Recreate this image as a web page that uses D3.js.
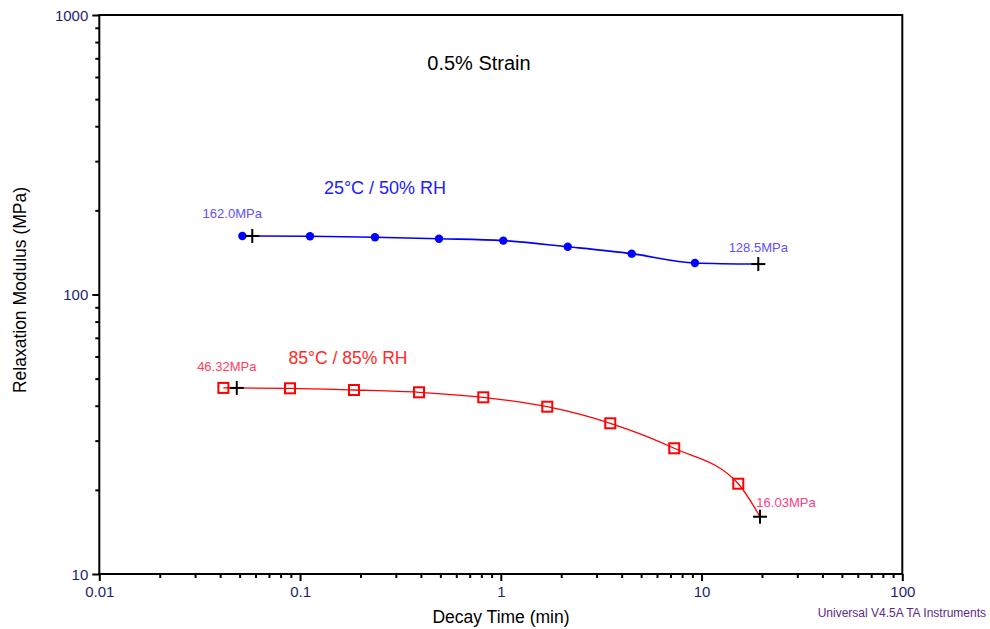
<!DOCTYPE html>
<html><head><meta charset="utf-8">
<script src="https://cdn.jsdelivr.net/npm/d3@7"></script>
<style>body{margin:0;background:#fff;}svg{display:block;font-family:"Liberation Sans",Arial,sans-serif;}</style>
</head><body>
<svg id="c" width="990" height="629"></svg>
<script>
// Data
const blueTime = [0.0516, 0.1121, 0.2362, 0.4922, 1.029, 2.154, 4.487, 9.27];
const blueMod  = [162.0, 161.5, 160.2, 158.3, 155.9, 148.2, 140.0, 129.7];
const blueEnds = [[0.0578, 162.0], [19.17, 128.5]];
const redTime  = [0.0415, 0.0891, 0.1856, 0.3914, 0.818, 1.704, 3.51, 7.31, 15.24];
const redMod   = [46.32, 46.17, 45.53, 44.68, 42.87, 39.68, 34.61, 28.17, 21.04];
const redEnds  = [[0.0484, 46.32], [19.55, 16.03]];
const xTickLabels = ["0.01", "0.1", "1", "10", "100"];
const yTickLabels = ["10", "100", "1000"];

const svg = d3.select("#c");
const x = d3.scaleLog().domain([0.01, 100]).range([99.3, 902.3]);
const y = d3.scaleLog().domain([10, 1000]).range([574, 15]);

const g = svg.append("g");
// frame
g.append("rect").attr("x", x(0.01)).attr("y", y(1000))
  .attr("width", x(100) - x(0.01)).attr("height", y(10) - y(1000))
  .attr("fill", "none").attr("stroke", "#000").attr("stroke-width", 2);

function minorVals(lo, hi) {
  const v = [];
  for (let d = lo; d < hi; d *= 10) for (let k = 1; k < 10; k++) v.push(d * k);
  v.push(hi);
  return v;
}
const xVals = minorVals(0.01, 100);
const yVals = minorVals(10, 1000);
const isMajor = v => Math.abs(Math.log10(v) - Math.round(Math.log10(v))) < 1e-9;

const xAxis = d3.axisBottom(x).tickValues(xVals).tickSize(0).tickFormat("");
const xa = g.append("g").attr("transform", `translate(0,${y(10)})`).call(xAxis);
xa.select(".domain").remove();
xa.selectAll(".tick line").attr("y2", d => isMajor(d) ? 7 : 4).attr("stroke", "#000").attr("stroke-width", 2);
xa.selectAll(".tick").filter(d => isMajor(d)).append("text")
  .attr("y", 23).attr("fill", "#1c2470").attr("font-size", 15).attr("text-anchor", "middle")
  .text(d => xTickLabels[Math.round(Math.log10(d)) + 2]);

const yAxis = d3.axisLeft(y).tickValues(yVals).tickSize(0).tickFormat("");
const ya = g.append("g").attr("transform", `translate(${x(0.01)},0)`).call(yAxis);
ya.select(".domain").remove();
ya.selectAll(".tick line").attr("x2", d => isMajor(d) ? -7 : -4).attr("stroke", "#000").attr("stroke-width", 2);
ya.selectAll(".tick").filter(d => isMajor(d)).append("text")
  .attr("x", -11).attr("dy", "0.35em").attr("fill", "#1c2470").attr("font-size", 15).attr("text-anchor", "end")
  .text(d => yTickLabels[Math.round(Math.log10(d)) - 1]);

// axis titles
svg.append("text").attr("x", 501).attr("y", 623).attr("text-anchor", "middle")
  .attr("font-size", 17.5).attr("fill", "#000").text("Decay Time (min)");
svg.append("text").attr("transform", "translate(26,290) rotate(-90)").attr("text-anchor", "middle")
  .attr("font-size", 17.5).attr("fill", "#000").text("Relaxation Modulus (MPa)");
svg.append("text").attr("x", 986).attr("y", 617).attr("text-anchor", "end")
  .attr("font-size", 12).attr("fill", "#5a2a8a").text("Universal V4.5A TA Instruments");

// title text
svg.append("text").attr("x", 479).attr("y", 70).attr("text-anchor", "middle")
  .attr("font-size", 20).attr("fill", "#000").text("0.5% Strain");
svg.append("text").attr("x", 385).attr("y", 194).attr("text-anchor", "middle")
  .attr("font-size", 18).attr("fill", "#2020ff").text("25°C / 50% RH");
svg.append("text").attr("x", 348).attr("y", 364).attr("text-anchor", "middle")
  .attr("font-size", 17.5).attr("fill", "#ff2a2a").text("85°C / 85% RH");

const line = d3.line().x(d => x(d[0])).y(d => y(d[1])).curve(d3.curveMonotoneX);

// blue series
const bluePts = blueTime.map((t, i) => [t, blueMod[i]]);
const blueLine = [...bluePts, blueEnds[1]];
g.append("path").datum(blueLine).attr("d", line).attr("fill", "none")
  .attr("stroke", "#0000ff").attr("stroke-width", 1.6);
g.selectAll(".bc").data(bluePts).enter().append("circle")
  .attr("cx", d => x(d[0])).attr("cy", d => y(d[1])).attr("r", 4.2).attr("fill", "#0000ff");

// red series
const redPts = redTime.map((t, i) => [t, redMod[i]]);
const redLine = [...redPts, redEnds[1]];
g.append("path").datum(redLine).attr("d", line).attr("fill", "none")
  .attr("stroke", "#ff0000").attr("stroke-width", 1.3);
g.selectAll(".rs").data(redPts).enter().append("rect")
  .attr("x", d => x(d[0]) - 5).attr("y", d => y(d[1]) - 5).attr("width", 10).attr("height", 10)
  .attr("fill", "none").attr("stroke", "#ff0000").attr("stroke-width", 2);

// crosses
const crosses = [...blueEnds, ...redEnds];
crosses.forEach(d => {
  const cx = x(d[0]), cy = y(d[1]);
  g.append("line").attr("x1", cx - 7).attr("x2", cx + 7).attr("y1", cy).attr("y2", cy).attr("stroke", "#000").attr("stroke-width", 2);
  g.append("line").attr("x1", cx).attr("x2", cx).attr("y1", cy - 7).attr("y2", cy + 7).attr("stroke", "#000").attr("stroke-width", 2);
});

// value labels
const labels = [
  {t: "162.0MPa", x: blueEnds[0][0], v: blueEnds[0][1], dx: -20, dy: -18, c: "#6050ff"},
  {t: "128.5MPa", x: blueEnds[1][0], v: blueEnds[1][1], dx: 0, dy: -12, c: "#6050ff"},
  {t: "46.32MPa", x: redEnds[0][0], v: redEnds[0][1], dx: -10, dy: -17, c: "#ff4060"},
  {t: "16.03MPa", x: redEnds[1][0], v: redEnds[1][1], dx: 26, dy: -10, c: "#ff4080"}
];
labels.forEach(l => {
  svg.append("text").attr("x", x(l.x) + l.dx).attr("y", y(l.v) + l.dy)
    .attr("text-anchor", "middle").attr("font-size", 13).attr("fill", l.c).text(l.t);
});
</script>
</body></html>
